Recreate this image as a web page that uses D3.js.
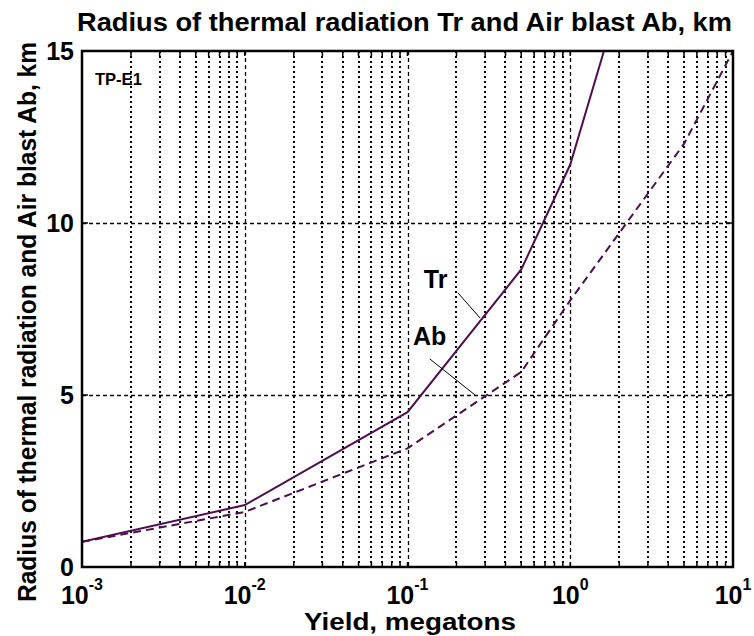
<!DOCTYPE html>
<meta charset="utf-8">
<head>
  <title>Radius of thermal radiation and air blast</title>
  <script src="https://d3js.org/d3.v7.min.js"></script>
</head>
<style>
body {
  margin: 0;
  background: #fff;
}
text {
  font-family: "Liberation Sans", Arial, sans-serif;
  font-weight: bold;
  fill: #000;
}
.grid-minor {
  stroke: #000;
  stroke-width: 2;
  stroke-dasharray: 2,3;
}
.grid-major {
  stroke: #000;
  stroke-width: 1.3;
  stroke-dasharray: 4,3;
}
.curve {
  fill: none;
  stroke: #4d0f4f;
  stroke-width: 2;
}
</style>
<body>
<script>
var width = 754,
  height = 636

// yield in megatons, radius in km
var trYield = [0.001, 0.01, 0.1, 0.5, 1, 2]
var trRadius = [0.73, 1.8, 4.5, 8.65, 11.7, 16.5]

var abYield = [0.001, 0.01, 0.1, 0.5, 1, 5, 10]
var abRadius = [0.73, 1.6, 3.45, 5.67, 7.75, 12.3, 15.0]

var xDecades = [-3, -2, -1, 0, 1]
var yTicks = [0, 5, 10, 15]

var x = d3.scaleLog().domain([1e-3, 10]).range([82, 733])
var y = d3.scaleLinear().domain([0, 15]).range([567, 51])

var svg = d3.select("body").append("svg")
    .attr("width", width)
    .attr("height", height)

svg.append("defs").append("clipPath")
    .attr("id", "plot")
  .append("rect")
    .attr("x", x.range()[0])
    .attr("y", y.range()[1])
    .attr("width", x.range()[1] - x.range()[0])
    .attr("height", y.range()[0] - y.range()[1])

// minor and major positions on the log axis
var minor = [], major = []
xDecades.forEach(function(p) {
  if (p > -3 && p < 1) major.push(Math.pow(10, p))
  if (p < 1) {
    for (var k = 2; k <= 9; k++) minor.push(k * Math.pow(10, p))
  }
})

var grid = svg.append("g")

grid.selectAll(".grid-minor")
    .data(minor)
  .enter().append("line")
    .attr("class", "grid-minor")
    .attr("x1", function(d) { return Math.round(x(d)) })
    .attr("x2", function(d) { return Math.round(x(d)) })
    .attr("y1", y(15))
    .attr("y2", y(0))

grid.selectAll(".grid-vmajor")
    .data(major)
  .enter().append("line")
    .attr("class", "grid-major")
    .attr("x1", function(d) { return Math.round(x(d)) + 0.5 })
    .attr("x2", function(d) { return Math.round(x(d)) + 0.5 })
    .attr("y1", y(15))
    .attr("y2", y(0))

grid.selectAll(".grid-h")
    .data([5, 10])
  .enter().append("line")
    .attr("class", "grid-major")
    .attr("x1", x(1e-3))
    .attr("x2", x(10))
    .attr("y1", function(d) { return Math.round(y(d)) + 0.5 })
    .attr("y2", function(d) { return Math.round(y(d)) + 0.5 })

// curves
var line = d3.line()
    .x(function(d) { return x(d[0]) })
    .y(function(d) { return y(d[1]) })

var curves = svg.append("g").attr("clip-path", "url(#plot)")

curves.append("path")
    .attr("class", "curve")
    .attr("d", line(d3.zip(trYield, trRadius)))

curves.append("path")
    .attr("class", "curve")
    .style("stroke-dasharray", "8,5")
    .attr("d", line(d3.zip(abYield, abRadius)))

// frame and ticks
svg.append("rect")
    .attr("x", x(1e-3))
    .attr("y", y(15))
    .attr("width", x(10) - x(1e-3))
    .attr("height", y(0) - y(15))
    .style("fill", "none")
    .style("stroke", "#000")
    .style("stroke-width", 2.5)

var ticks = svg.append("g").style("stroke", "#000").style("stroke-width", 1.5)
minor.concat(major).forEach(function(d) {
  ticks.append("line").attr("x1", x(d)).attr("x2", x(d)).attr("y1", y(0)).attr("y2", y(0) - 5)
  ticks.append("line").attr("x1", x(d)).attr("x2", x(d)).attr("y1", y(15)).attr("y2", y(15) + 5)
})
yTicks.forEach(function(d) {
  ticks.append("line").attr("x1", x(1e-3)).attr("x2", x(1e-3) + 6).attr("y1", y(d)).attr("y2", y(d))
  ticks.append("line").attr("x1", x(10)).attr("x2", x(10) - 6).attr("y1", y(d)).attr("y2", y(d))
})

// y tick labels
svg.selectAll(".ylab")
    .data(yTicks)
  .enter().append("text")
    .attr("x", x(1e-3) - 8)
    .attr("y", function(d) { return y(d) + 9 })
    .style("text-anchor", "end")
    .style("font-size", "25px")
    .text(function(d) { return d })

// x tick labels, 10 with exponent
var xl = svg.selectAll(".xlab")
    .data(xDecades)
  .enter().append("text")
    .attr("x", function(d) { return x(Math.pow(10, d)) })
    .attr("y", 604)
    .style("text-anchor", "middle")
    .style("font-size", "25px")
xl.append("tspan").text("10")
xl.append("tspan")
    .attr("dy", -14)
    .style("font-size", "16px")
    .text(function(d) { return d })

// titles
svg.append("text")
    .attr("x", 77)
    .attr("y", 31)
    .attr("textLength", 655)
    .attr("lengthAdjust", "spacingAndGlyphs")
    .style("font-size", "26px")
    .text("Radius of thermal radiation Tr and Air blast Ab, km")

svg.append("text")
    .attr("x", 410)
    .attr("y", 630)
    .attr("textLength", 212)
    .attr("lengthAdjust", "spacingAndGlyphs")
    .style("text-anchor", "middle")
    .style("font-size", "23px")
    .text("Yield, megatons")

svg.append("text")
    .attr("transform", "translate(36,322) rotate(-90)")
    .attr("textLength", 560)
    .attr("lengthAdjust", "spacingAndGlyphs")
    .style("text-anchor", "middle")
    .style("font-size", "26px")
    .text("Radius of thermal radiation and Air blast Ab, km")

// annotations
svg.append("text")
    .attr("x", x(0.0012))
    .attr("y", y(14.0))
    .attr("textLength", 47)
    .attr("lengthAdjust", "spacingAndGlyphs")
    .style("font-size", "17px")
    .text("TP-E1")

svg.append("text")
    .attr("x", x(0.126))
    .attr("y", y(8.1))
    .style("font-size", "25px")
    .text("Tr")

svg.append("text")
    .attr("x", x(0.108))
    .attr("y", y(6.45))
    .style("font-size", "25px")
    .text("Ab")

svg.append("line")
    .attr("x1", x(0.204)).attr("y1", y(7.97))
    .attr("x2", x(0.279)).attr("y2", y(7.24))
    .style("stroke", "#000").style("stroke-width", 1)

svg.append("line")
    .attr("x1", x(0.137)).attr("y1", y(6.05))
    .attr("x2", x(0.26)).attr("y2", y(5.0))
    .style("stroke", "#000").style("stroke-width", 1)
</script>
</body>
</html>
